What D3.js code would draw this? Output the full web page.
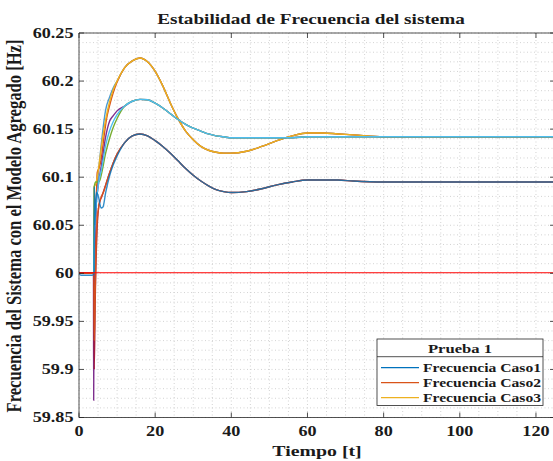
<!DOCTYPE html>
<html><head><meta charset="utf-8">
<script src="https://cdn.jsdelivr.net/npm/d3@7"></script>
<style>html,body{margin:0;padding:0;background:#fff;}svg{display:block;}</style>
</head><body>
<svg id="c" width="553" height="461"></svg>
<script>
// ---- data ----
const xTicks = [0, 20, 40, 60, 80, 100, 120];
const yTicks = [59.85, 59.9, 59.95, 60, 60.05, 60.1, 60.15, 60.2, 60.25];
const legendNames = ["Frecuencia Caso1", "Frecuencia Caso2", "Frecuencia Caso3"];
const legendTitle = "Prueba 1";
const seriesColors = ["#0072BD", "#D95319", "#EDB120", "#7E2F8E", "#77AC30", "#4DBEEE", "#A2142F", "#0072BD", "#D95319"];
const seriesGroup = ["bajo", "bajo", "alto", "medio", "medio", "medio", "bajo", "alto", "alto"];

// early transient (t <= 10) per series
const earlyTime = [
  [0, 0.5, 3.5, 3.95, 4.0, 4.1, 4.6, 5.1, 5.8, 6.3, 7, 8, 9, 10],
  [0, 3.9, 4.0, 4.3, 4.7, 5.2, 5.7, 6.5, 7.2, 8, 9, 10],
  [0, 3.9, 4.0, 4.4, 5.0, 5.5, 6, 7, 8, 9, 10],
  [0, 3.8, 3.85, 4.0, 4.5, 5, 6, 7, 8, 9, 10],
  [0, 3.9, 4.0, 4.4, 4.8, 5.4, 6, 7, 8, 9, 10],
  [0, 3.9, 4.0, 4.5, 5, 6, 7, 8, 9, 10],
  [0, 3.9, 4.0, 4.3, 4.8, 5.3, 6, 7, 8, 9, 10],
  [0, 3.9, 4.0, 4.5, 5, 6, 7, 8, 9, 10],
  [0, 3.9, 4.0, 4.8, 5.3, 5.8, 6.5, 7.2, 8, 9, 10]
];
const earlyFreq = [
  [60, 59.998, 59.998, 60, 60.09, 60.05, 60.084, 60.08, 60.068, 60.069, 60.084, 60.101, 60.113, 60.122],
  [60, 60, 59.93, 59.99, 60.05, 60.07, 60.078, 60.085, 60.094, 60.104, 60.115, 60.124],
  [60, 60, 60.09, 60.093, 60.105, 60.12, 60.135, 60.16, 60.178, 60.191, 60.2],
  [60, 60, 59.868, 60.0, 60.07, 60.09, 60.115, 60.142, 60.158, 60.164, 60.169],
  [60, 60, 60.09, 60.095, 60.095, 60.096, 60.105, 60.125, 60.14, 60.152, 60.161],
  [60, 60, 60.03, 60.07, 60.09, 60.11, 60.133, 60.148, 60.158, 60.165],
  [60, 60, 59.9, 59.98, 60.05, 60.072, 60.08, 60.092, 60.104, 60.115, 60.124],
  [60, 60, 60.06, 60.08, 60.1, 60.14, 60.17, 60.183, 60.193, 60.2],
  [60, 60, 60, 60.105, 60.11, 60.118, 60.14, 60.16, 60.174, 60.188, 60.199]
];

// later response (t >= 12) per group
const timeLate = [12, 14, 16, 18, 20, 22, 24, 26, 28, 30, 32, 34, 36, 38, 40, 44, 48, 52, 56, 60, 64, 68, 72, 80, 90, 100, 110, 125];
const grupoAlto = [60.214, 60.221, 60.224, 60.22, 60.21, 60.195, 60.177, 60.161, 60.148, 60.139, 60.132, 60.128, 60.126, 60.125, 60.125, 60.127, 60.132, 60.138, 60.143, 60.146, 60.146, 60.145, 60.144, 60.142, 60.142, 60.142, 60.142, 60.142];
const grupoMedio = [60.174, 60.179, 60.181, 60.1805, 60.177, 60.172, 60.166, 60.16, 60.155, 60.151, 60.148, 60.145, 60.143, 60.142, 60.141, 60.141, 60.141, 60.141, 60.141, 60.142, 60.142, 60.142, 60.142, 60.142, 60.142, 60.142, 60.142, 60.142];
const grupoBajo = [60.136, 60.143, 60.145, 60.143, 60.138, 60.132, 60.125, 60.117, 60.109, 60.102, 60.096, 60.091, 60.087, 60.085, 60.084, 60.085, 60.088, 60.092, 60.095, 60.097, 60.097, 60.097, 60.096, 60.095, 60.095, 60.095, 60.095, 60.095];

const refTime = [0, 125];
const refFreq = [60, 60];

// ---- layout ----
const S = 1.28; // horizontal text stretch of the original figure
const FONT = "'Liberation Serif', 'Times New Roman', serif";
const L = 79, R = 555, T = 33, B = 417.5;

const svg = d3.select("#c");
const x = d3.scaleLinear().domain([0, 125]).range([L, R]);
const y = d3.scaleLinear().domain([59.85, 60.25]).range([B, T]);

function stext(g, px, py, str, size, anchor, rot) {
  return g.append("text")
    .attr("transform", `translate(${px},${py}) scale(${S},1)` + (rot ? ` rotate(${rot})` : ""))
    .attr("text-anchor", anchor)
    .attr("font-family", FONT)
    .attr("font-weight", "bold")
    .attr("font-size", size)
    .attr("fill", "#1a1a1a")
    .text(str);
}

svg.append("defs").append("clipPath").attr("id", "pc")
  .append("rect").attr("x", L).attr("y", T).attr("width", R - L).attr("height", B - T);

// grid (dotted, major + minor)
const grid = svg.append("g");
grid.selectAll("line.gx").data(d3.range(0, 126, 5)).join("line")
  .attr("x1", d => x(d)).attr("x2", d => x(d)).attr("y1", T).attr("y2", B)
  .attr("stroke", "#c8c8c8").attr("stroke-width", 0.8).attr("stroke-dasharray", "1,2.5");
grid.selectAll("line.gy").data(d3.range(0, 41).map(i => 59.85 + i * 0.01)).join("line")
  .attr("x1", L).attr("x2", R).attr("y1", d => y(d)).attr("y2", d => y(d))
  .attr("stroke", "#c8c8c8").attr("stroke-width", 0.8).attr("stroke-dasharray", "1,2.5");

// series
const groups = { alto: grupoAlto, medio: grupoMedio, bajo: grupoBajo };
const line = d3.line().x(d => x(d[0])).y(d => y(d[1])).curve(d3.curveMonotoneX);
const plot = svg.append("g").attr("clip-path", "url(#pc)");

const drawOrder = [7, 8, 2, 3, 4, 5, 6, 1, 0];
const opac = [0.8, 0.9, 1, 1, 1, 1, 0.9, 0.7, 1];
drawOrder.forEach(i => {
  const pts = earlyTime[i].map((t, k) => [t, earlyFreq[i][k]])
    .concat(timeLate.map((t, k) => [t, groups[seriesGroup[i]][k]]));
  plot.append("path").attr("d", line(pts)).attr("fill", "none")
    .attr("stroke", seriesColors[i]).attr("stroke-width", 1.4)
    .attr("stroke-opacity", opac[i]);
});
plot.append("path").attr("d", line(refTime.map((t, k) => [t, refFreq[k]])))
  .attr("transform", "translate(0,-0.5)")
  .attr("fill", "none").attr("stroke", "#FF0000").attr("stroke-width", 1.1);

// axes box
const ax = svg.append("g").attr("stroke", "#262626").attr("stroke-width", 0.8);
ax.append("line").attr("x1", L).attr("x2", R).attr("y1", B).attr("y2", B);
ax.append("line").attr("x1", L).attr("x2", R).attr("y1", T).attr("y2", T);
ax.append("line").attr("x1", L).attr("x2", L).attr("y1", T).attr("y2", B);
ax.append("line").attr("x1", R).attr("x2", R).attr("y1", T).attr("y2", B);

// ticks inward
const tl = 5;
xTicks.forEach(v => {
  ax.append("line").attr("x1", x(v)).attr("x2", x(v)).attr("y1", B).attr("y2", B - tl);
  ax.append("line").attr("x1", x(v)).attr("x2", x(v)).attr("y1", T).attr("y2", T + tl);
});
yTicks.forEach(v => {
  ax.append("line").attr("x1", L).attr("x2", L + tl).attr("y1", y(v)).attr("y2", y(v));
  ax.append("line").attr("x1", R).attr("x2", R - tl).attr("y1", y(v)).attr("y2", y(v));
});

// tick labels
const labels = svg.append("g");
xTicks.forEach(v => stext(labels, x(v), 436, String(v), 14.2, "middle"));
yTicks.forEach(v => stext(labels, 73.5, y(v) + 4.8, String(+v.toFixed(2)), 14.2, "end"));

// titles
stext(svg, 311, 24, "Estabilidad de Frecuencia del sistema", 15, "middle");
stext(svg, 317, 456, "Tiempo [t]", 15.5, "middle");
stext(svg, 21, 226, "Frecuencia del Sistema con el Modelo Agregado [Hz]", 16.6, "middle", -90);

// legend
const lg = svg.append("g");
const lx0 = 377, lx1 = 543, ly0 = 339, ly1 = 405.5, lsep = 356.7;
lg.append("rect").attr("x", lx0).attr("y", ly0).attr("width", lx1 - lx0).attr("height", ly1 - ly0)
  .attr("fill", "#fff").attr("stroke", "#262626").attr("stroke-width", 0.8);
lg.append("line").attr("x1", lx0).attr("x2", lx1).attr("y1", lsep).attr("y2", lsep)
  .attr("stroke", "#262626").attr("stroke-width", 0.8);
stext(lg, (lx0 + lx1) / 2, 353, legendTitle, 13, "middle");
const rowY = [367.7, 382.7, 397.7];
legendNames.forEach((name, i) => {
  lg.append("line").attr("x1", 381).attr("x2", 419).attr("y1", rowY[i]).attr("y2", rowY[i])
    .attr("stroke", seriesColors[i]).attr("stroke-width", 1.3);
  stext(lg, 423, rowY[i] + 4.3, name, 12.2, "start");
});
</script>
</body></html>
